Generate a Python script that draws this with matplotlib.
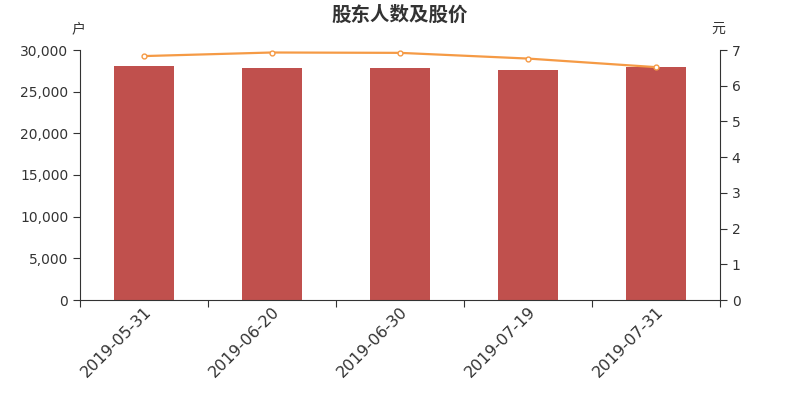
import matplotlib
matplotlib.use("Agg")
import matplotlib.pyplot as plt
from matplotlib.ticker import FuncFormatter

plt.rcParams['font.family'] = ['DejaVu Sans', 'Noto Sans CJK SC']

dates = ['2019-05-31', '2019-06-20', '2019-06-30', '2019-07-19', '2019-07-31']
holders = [28080, 27900, 27840, 27660, 28020]
prices = [6.83, 6.93, 6.92, 6.76, 6.52]

dark = '#333333'

fig = plt.figure(figsize=(8, 4), dpi=100)
ax = fig.add_axes([0.1, 0.25, 0.8, 0.625])
ax2 = ax.twinx()

x = list(range(len(dates)))
ax.bar(x, holders, width=0.47, color='#c0504d', zorder=2)
ax2.plot(x, prices, color='#f59a45', lw=1.6, marker='o', markersize=3.5,
         markerfacecolor='white', markeredgecolor='#f59a45', markeredgewidth=1, zorder=3)

ax.set_xlim(-0.5, len(dates) - 0.5)
ax.set_ylim(0, 30000)
ax2.set_ylim(0, 7)
ax.set_yticks(range(0, 30001, 5000))
ax.yaxis.set_major_formatter(FuncFormatter(lambda v, p: f'{int(v):,}'))
ax2.set_yticks(range(0, 8))

# ticks on category boundaries, labels at category centres
ax.set_xticks([i - 0.5 for i in range(len(dates) + 1)])
ax.set_xticklabels([])
ax.set_xticks(x, minor=True)
ax.set_xticklabels(dates, minor=True, rotation=45, ha='right', rotation_mode='anchor',
                   fontsize=11.5, color=dark)
ax.tick_params(axis='x', which='minor', length=0, pad=3)
ax.tick_params(axis='x', which='major', length=5, color=dark)
ax.tick_params(axis='y', labelsize=10, colors=dark, length=5)
ax2.tick_params(axis='y', labelsize=10, colors=dark, length=5)

for a in (ax, ax2):
    a.spines['top'].set_visible(False)
    for s in ('left', 'right', 'bottom'):
        a.spines[s].set_color(dark)
ax.spines['right'].set_visible(False)
ax2.spines['left'].set_visible(False)
ax2.spines['bottom'].set_visible(False)

fig.text(0.5, 0.963, '股东人数及股价', ha='center', va='center', fontsize=14,
         fontweight='bold', color=dark)
fig.text(0.098, 0.928, '户', ha='center', va='center', fontsize=10, color=dark)
fig.text(0.898, 0.928, '元', ha='center', va='center', fontsize=10, color=dark)

fig.savefig('out.png', dpi=100)
